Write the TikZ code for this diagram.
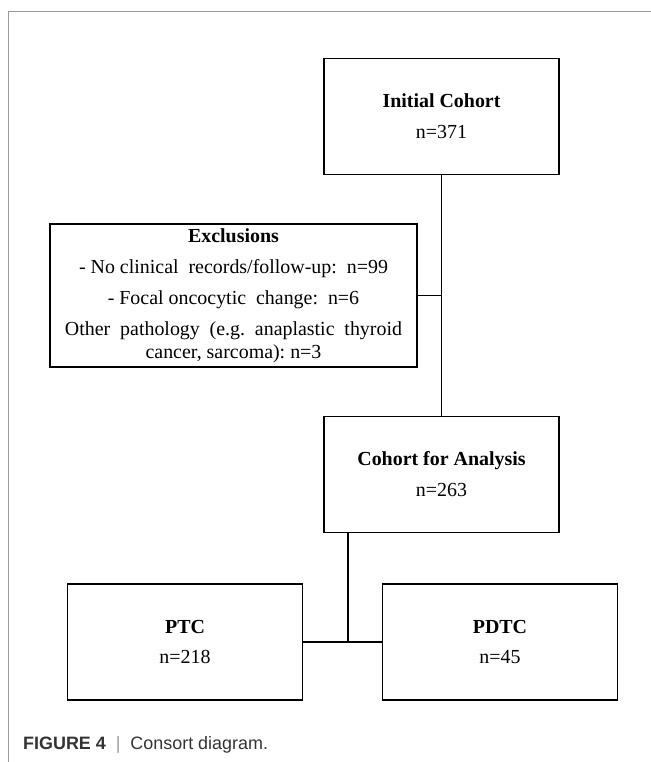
\documentclass[tikz,border=0pt]{standalone}
\usepackage{fontspec}
\setmainfont{Liberation Serif}
\newfontfamily\capfont{Liberation Sans}
\definecolor{framegray}{HTML}{9A9A9A}
\definecolor{captext}{HTML}{333333}
\frenchspacing

\begin{document}
\begin{tikzpicture}[x=1bp,y=-1bp,
        box/.style={draw, line width=1.2bp, minimum width=235bp, minimum height=116bp,
            inner sep=0pt, align=center, font=\fontsize{20}{31}\selectfont},
        link/.style={line width=1.2bp}]
        \useasboundingbox (0,0) rectangle (651,762);
        \draw [framegray, line width=1bp] (8,762) -- (8,12) -- (651,12);
        \node[box] (init) at (441.5,116.5) {\textbf{Initial\ Cohort}\\n=371};
        \node[box, minimum width=367bp, minimum height=143bp] (excl) at (233.5,295.5)
            {\textbf{Exclusions}\\
            - No clinical\ \ records/follow-up:\ \ n=99\\
            - Focal oncocytic\ \ change:\ \ n=6\\
            \makebox[337bp][s]{Other pathology (e.g. anaplastic thyroid}\\[-8bp]
            cancer,\ sarcoma):\ n=3};
        \node[box] (cohort) at (441.5,474.5) {\textbf{Cohort\ for Analysis}\\n=263};
        \node[box] (ptc) at (185,642) {\textbf{PTC}\\n=218};
        \node[box] (pdtc) at (500,642) {\textbf{PDTC}\\n=45};
        \coordinate (split) at (348,642);
        \draw [link] (init) -- (cohort);
        \draw [link] (excl.east) -- (excl.east -| init.south);
        \draw [link] (ptc.east) -- (pdtc.west);
        \draw [link] (cohort.south -| split) -- (split);
        \node[anchor=base west, inner sep=0pt, text=captext, font=\capfont\fontsize{18}{18}\selectfont] (cap) at (23,749)
            {\textbf{FIGURE 4}\ \ {\color{framegray}|}\ \ Consort diagram.};
    \end{tikzpicture}
\end{document}
